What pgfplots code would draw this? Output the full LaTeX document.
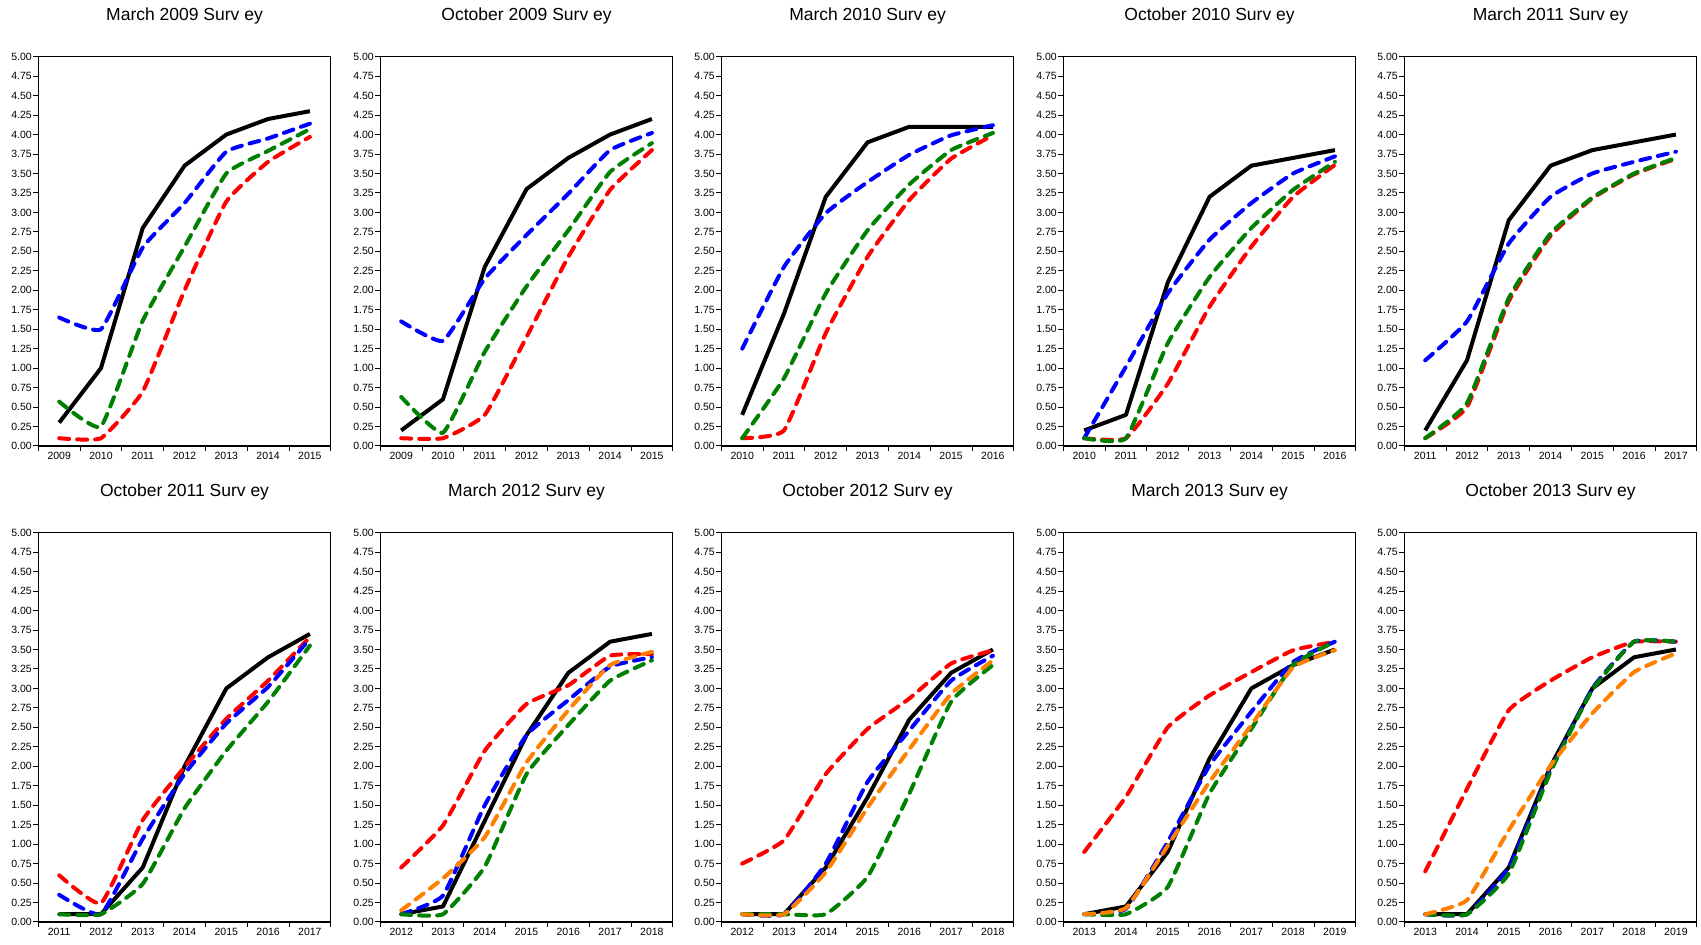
\documentclass[border=0pt]{standalone}
\usepackage{fontspec}
\setmainfont{Liberation Sans}
\usepackage{pgfplots}
\pgfplotsset{compat=1.18}
\definecolor{cred}{RGB}{255,0,0}
\definecolor{cblue}{RGB}{0,0,255}
\definecolor{cgreen}{RGB}{0,128,0}
\definecolor{corange}{RGB}{255,128,0}
\pgfplotsset{
 panel/.style={
  scale only axis, width=292.5pt, height=389.3pt, anchor=south west,
  xmin=-0.5, xmax=6.5, ymin=0, ymax=5,
  ytick={0,0.25,0.5,0.75,1,1.25,1.5,1.75,2,2.25,2.5,2.75,3,3.25,3.5,3.75,4,4.25,4.5,4.75,5},
  xtick={-0.5,0.5,1.5,2.5,3.5,4.5,5.5,6.5}, xticklabels={},
  extra x ticks={0,1,2,3,4,5,6},
  extra x tick style={major tick length=0pt, xticklabel style={yshift=-3pt}},
  tick align=outside, xtick pos=bottom, ytick pos=left,
  major tick length=5pt,
  tick style={black, line width=1pt},
  axis line style={black, line width=1.2pt},
  /pgf/number format/assume math mode=true,
  yticklabel style={/pgf/number format/.cd, fixed, fixed zerofill, precision=2, /tikz/.cd, xshift=2pt},
  tick label style={font=\fontsize{10.5}{12}\selectfont},
  title style={at={(0.5,1)}, anchor=base, yshift=30pt, font=\fontsize{17.5}{20}\selectfont},
 },
 blk/.style={black, line width=4pt, line join=round},
 dsh/.style={line width=4pt, dash pattern=on 10pt off 8pt, line cap=round, line join=round, smooth, tension=0.25},
}
\begin{document}
\begin{tikzpicture}
\useasboundingbox (0pt,0pt) rectangle (1701pt,945pt);
% ---------- Row 1 ----------
\begin{axis}[panel, at={(38.3pt,499pt)}, title={March 2009 Surv ey}, extra x tick labels={2009,2010,2011,2012,2013,2014,2015}]
\addplot[blk] coordinates {(0,0.3)(1,1.0)(2,2.8)(3,3.6)(4,4.0)(5,4.2)(6,4.3)};
\addplot[dsh,cred] coordinates {(0,0.1)(1,0.1)(2,0.7)(3,2.0)(4,3.14)(5,3.65)(6,3.97)};
\addplot[dsh,cblue] coordinates {(0,1.65)(1,1.5)(2,2.55)(3,3.12)(4,3.78)(5,3.95)(6,4.14)};
\addplot[dsh,cgreen] coordinates {(0,0.57)(1,0.25)(2,1.61)(3,2.56)(4,3.5)(5,3.79)(6,4.07)};
\end{axis}
\begin{axis}[panel, at={(380.3pt,499pt)}, title={October 2009 Surv ey}, extra x tick labels={2009,2010,2011,2012,2013,2014,2015}]
\addplot[blk] coordinates {(0,0.2)(1,0.6)(2,2.3)(3,3.3)(4,3.7)(5,4.0)(6,4.2)};
\addplot[dsh,cred] coordinates {(0,0.1)(1,0.1)(2,0.4)(3,1.4)(4,2.43)(5,3.29)(6,3.8)};
\addplot[dsh,cblue] coordinates {(0,1.6)(1,1.35)(2,2.15)(3,2.71)(4,3.24)(5,3.8)(6,4.02)};
\addplot[dsh,cgreen] coordinates {(0,0.63)(1,0.17)(2,1.21)(3,2.05)(4,2.77)(5,3.52)(6,3.89)};
\end{axis}
\begin{axis}[panel, at={(721.3pt,499pt)}, title={March 2010 Surv ey}, extra x tick labels={2010,2011,2012,2013,2014,2015,2016}]
\addplot[blk] coordinates {(0,0.4)(1,1.7)(2,3.2)(3,3.9)(4,4.1)(5,4.1)(6,4.1)};
\addplot[dsh,cred] coordinates {(0,0.1)(1,0.2)(2,1.45)(3,2.43)(4,3.16)(5,3.69)(6,3.99)};
\addplot[dsh,cblue] coordinates {(0,1.25)(1,2.3)(2,2.99)(3,3.39)(4,3.74)(5,3.99)(6,4.12)};
\addplot[dsh,cgreen] coordinates {(0,0.1)(1,0.87)(2,1.96)(3,2.77)(4,3.36)(5,3.8)(6,4.02)};
\end{axis}
\begin{axis}[panel, at={(1063.3pt,499pt)}, title={October 2010 Surv ey}, extra x tick labels={2010,2011,2012,2013,2014,2015,2016}]
\addplot[blk] coordinates {(0,0.2)(1,0.4)(2,2.1)(3,3.2)(4,3.6)(5,3.7)(6,3.8)};
\addplot[dsh,cred] coordinates {(0,0.1)(1,0.1)(2,0.8)(3,1.79)(4,2.56)(5,3.2)(6,3.61)};
\addplot[dsh,cblue] coordinates {(0,0.1)(1,1.02)(2,1.96)(3,2.65)(4,3.12)(5,3.5)(6,3.72)};
\addplot[dsh,cgreen] coordinates {(0,0.1)(1,0.1)(2,1.32)(3,2.17)(4,2.8)(5,3.29)(6,3.65)};
\end{axis}
\begin{axis}[panel, at={(1404.3pt,499pt)}, title={March 2011 Surv ey}, extra x tick labels={2011,2012,2013,2014,2015,2016,2017}]
\addplot[blk] coordinates {(0,0.2)(1,1.1)(2,2.9)(3,3.6)(4,3.8)(5,3.9)(6,4.0)};
\addplot[dsh,cred] coordinates {(0,0.1)(1,0.5)(2,1.86)(3,2.7)(4,3.18)(5,3.49)(6,3.69)};
\addplot[dsh,cblue] coordinates {(0,1.1)(1,1.6)(2,2.6)(3,3.2)(4,3.5)(5,3.65)(6,3.78)};
\addplot[dsh,cgreen] coordinates {(0,0.1)(1,0.55)(2,1.9)(3,2.73)(4,3.19)(5,3.5)(6,3.7)};
\end{axis}
% ---------- Row 2 ----------
\begin{axis}[panel, at={(38.3pt,23pt)}, title={October 2011 Surv ey}, extra x tick labels={2011,2012,2013,2014,2015,2016,2017}]
\addplot[blk] coordinates {(0,0.1)(1,0.1)(2,0.7)(3,2.0)(4,3.0)(5,3.4)(6,3.7)};
\addplot[dsh,cred] coordinates {(0,0.6)(1,0.24)(2,1.31)(3,1.99)(4,2.61)(5,3.1)(6,3.66)};
\addplot[dsh,cblue] coordinates {(0,0.35)(1,0.1)(2,1.07)(3,1.9)(4,2.55)(5,3.02)(6,3.64)};
\addplot[dsh,cgreen] coordinates {(0,0.1)(1,0.1)(2,0.49)(3,1.46)(4,2.2)(5,2.83)(6,3.55)};
\end{axis}
\begin{axis}[panel, at={(380.3pt,23pt)}, title={March 2012 Surv ey}, extra x tick labels={2012,2013,2014,2015,2016,2017,2018}]
\addplot[blk] coordinates {(0,0.1)(1,0.2)(2,1.3)(3,2.4)(4,3.2)(5,3.6)(6,3.7)};
\addplot[dsh,cred] coordinates {(0,0.7)(1,1.24)(2,2.2)(3,2.8)(4,3.04)(5,3.42)(6,3.44)};
\addplot[dsh,cblue] coordinates {(0,0.1)(1,0.34)(2,1.5)(3,2.4)(4,2.85)(5,3.28)(6,3.4)};
\addplot[dsh,cgreen] coordinates {(0,0.1)(1,0.1)(2,0.71)(3,1.9)(4,2.53)(5,3.1)(6,3.36)};
\addplot[dsh,corange] coordinates {(0,0.15)(1,0.56)(2,1.09)(3,2.05)(4,2.72)(5,3.3)(6,3.47)};
\end{axis}
\begin{axis}[panel, at={(721.3pt,23pt)}, title={October 2012 Surv ey}, extra x tick labels={2012,2013,2014,2015,2016,2017,2018}]
\addplot[blk] coordinates {(0,0.1)(1,0.1)(2,0.7)(3,1.6)(4,2.6)(5,3.2)(6,3.5)};
\addplot[dsh,cred] coordinates {(0,0.75)(1,1.05)(2,1.9)(3,2.48)(4,2.87)(5,3.32)(6,3.49)};
\addplot[dsh,cblue] coordinates {(0,0.1)(1,0.1)(2,0.75)(3,1.8)(4,2.46)(5,3.1)(6,3.42)};
\addplot[dsh,cgreen] coordinates {(0,0.1)(1,0.1)(2,0.1)(3,0.58)(4,1.65)(5,2.83)(6,3.3)};
\addplot[dsh,corange] coordinates {(0,0.1)(1,0.1)(2,0.64)(3,1.47)(4,2.22)(5,2.93)(6,3.36)};
\end{axis}
\begin{axis}[panel, at={(1063.3pt,23pt)}, title={March 2013 Surv ey}, extra x tick labels={2013,2014,2015,2016,2017,2018,2019}]
\addplot[blk] coordinates {(0,0.1)(1,0.2)(2,0.9)(3,2.1)(4,3.0)(5,3.3)(6,3.5)};
\addplot[dsh,cred] coordinates {(0,0.9)(1,1.61)(2,2.5)(3,2.91)(4,3.21)(5,3.49)(6,3.6)};
\addplot[dsh,cblue] coordinates {(0,0.1)(1,0.17)(2,1.03)(3,2.01)(4,2.7)(5,3.34)(6,3.6)};
\addplot[dsh,cgreen] coordinates {(0,0.1)(1,0.1)(2,0.45)(3,1.65)(4,2.48)(5,3.3)(6,3.6)};
\addplot[dsh,corange] coordinates {(0,0.1)(1,0.18)(2,0.98)(3,1.8)(4,2.53)(5,3.27)(6,3.49)};
\end{axis}
\begin{axis}[panel, at={(1404.3pt,23pt)}, title={October 2013 Surv ey}, extra x tick labels={2013,2014,2015,2016,2017,2018,2019}]
\addplot[blk] coordinates {(0,0.1)(1,0.1)(2,0.7)(3,2.0)(4,3.0)(5,3.4)(6,3.5)};
\addplot[dsh,cred] coordinates {(0,0.65)(1,1.71)(2,2.72)(3,3.1)(4,3.4)(5,3.6)(6,3.6)};
\addplot[dsh,cblue] coordinates {(0,0.1)(1,0.1)(2,0.7)(3,1.95)(4,3.0)(5,3.6)(6,3.6)};
\addplot[dsh,cgreen] coordinates {(0,0.1)(1,0.1)(2,0.62)(3,1.93)(4,2.98)(5,3.6)(6,3.6)};
\addplot[dsh,corange] coordinates {(0,0.1)(1,0.28)(2,1.18)(3,2.01)(4,2.68)(5,3.21)(6,3.45)};
\end{axis}
\end{tikzpicture}
\end{document}
